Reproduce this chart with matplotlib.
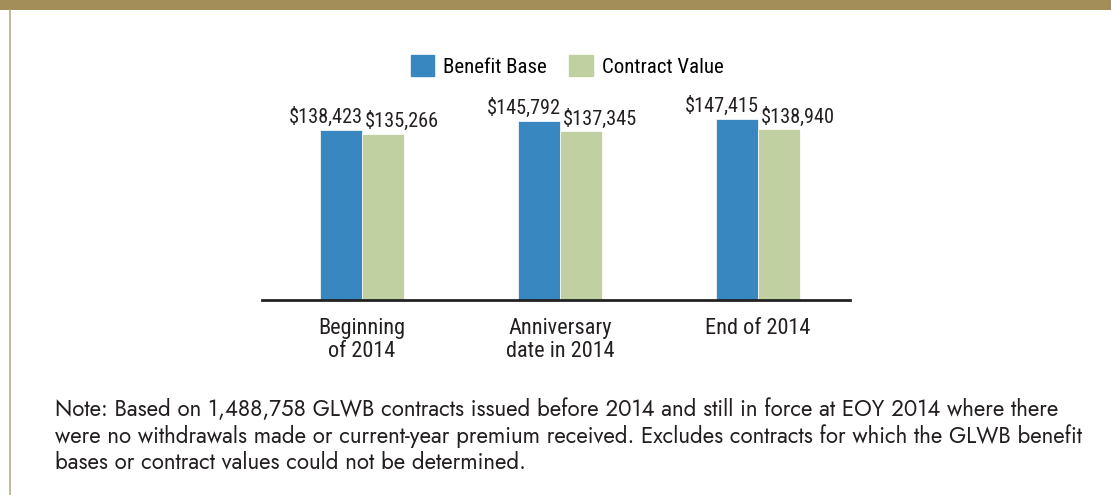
import matplotlib
matplotlib.use("Agg")
import matplotlib.pyplot as plt
from matplotlib.patches import Rectangle
from matplotlib.lines import Line2D
import numpy as np

categories = ["Beginning\nof 2014", "Anniversary\ndate in 2014", "End of 2014"]
benefit_base = [138423, 145792, 147415]
contract_value = [135266, 137345, 138940]
series_names = ["Benefit Base", "Contract Value"]
note_lines = [
    "Note: Based on 1,488,758 GLWB contracts issued before 2014 and still in force at EOY 2014 where there",
    "were no withdrawals made or current-year premium received. Excludes contracts for which the GLWB benefit",
    "bases or contract values could not be determined.",
]

BLUE = "#3987C1"
GREEN = "#C0D0A0"
GOLD = "#A38E5A"
TXT = "#231F20"
COND = ["Roboto Condensed", "DejaVu Sans"]
NOTEF = ["Jost", "DejaVu Sans"]

W, H = 1111, 495
fig = plt.figure(figsize=(W / 100, H / 100), dpi=100)

# decorative frame
fig.add_artist(Rectangle((0, 1 - 10 / H), 1, 10 / H, transform=fig.transFigure,
                         facecolor=GOLD, edgecolor="none"))
fig.add_artist(Line2D([9.5 / W, 9.5 / W], [0, 1 - 10 / H], transform=fig.transFigure,
                      color="#B8AC88", lw=1.2))

ax = fig.add_axes([262 / W, 1 - 300 / H, 588 / W, (300 - 103.6) / H])
x = np.arange(len(categories))
bw = 42 / 198
b1 = ax.bar(x - bw / 2, benefit_base, bw, color=BLUE, edgecolor="white", linewidth=0.5)
b2 = ax.bar(x + bw / 2, contract_value, bw, color=GREEN, edgecolor="white", linewidth=0.5)
ax.set_xlim(-100 / 198, 488 / 198)
ax.set_ylim(0, 160000)
for s in ["top", "right", "left"]:
    ax.spines[s].set_visible(False)
ax.spines["bottom"].set_linewidth(2)
ax.spines["bottom"].set_color("#222222")
ax.set_yticks([])
ax.set_xticks(x)
ax.set_xticklabels(categories, family=COND, fontsize=16, color=TXT, linespacing=1.12)
ax.tick_params(axis="x", length=0, pad=13)

for r, v in zip(b1, benefit_base):
    ax.annotate(f"${v:,}", (r.get_x() + r.get_width(), v), xytext=(0.5, 2),
                textcoords="offset points", ha="right", va="bottom",
                family=COND, fontsize=14.6, color=TXT)
for r, v in zip(b2, contract_value):
    ax.annotate(f"${v:,}", (r.get_x(), v), xytext=(2, 2),
                textcoords="offset points", ha="left", va="bottom",
                family=COND, fontsize=14.6, color=TXT)

handles = [Rectangle((0, 0), 1, 1, color=BLUE), Rectangle((0, 0), 1, 1, color=GREEN)]
fig.legend(handles, series_names, loc="center", bbox_to_anchor=(567 / W, 1 - 66 / H),
           ncol=2, frameon=False, prop={"family": COND, "size": 15},
           handlelength=1.15, handleheight=1.15, handletextpad=0.4, columnspacing=1.1)

for i, line in enumerate(note_lines):
    fig.text(55 / W, 1 - (410 + 26 * i) / H, line, ha="left", va="center", fontsize=16.1,
             family=NOTEF, color=TXT)

fig.savefig("out.png", dpi=100, facecolor="white")
